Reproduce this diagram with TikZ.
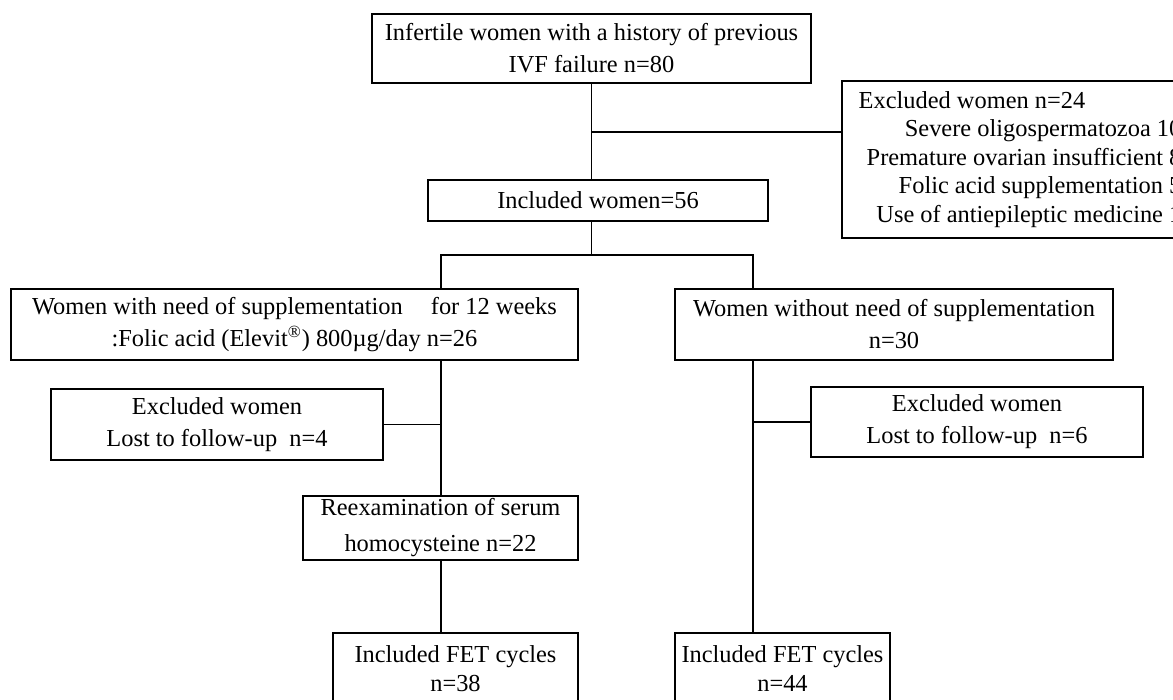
\documentclass[tikz,border=0pt]{standalone}
\usepackage{fontspec}
\setmainfont{Liberation Serif}
\usetikzlibrary{positioning,calc}
\tikzset{
  box/.style={rectangle, draw=black, line width=0.8pt, align=center, inner sep=0pt, font=\fontsize{12.2}{16}\selectfont},
  line/.style={draw, line width=0.8pt}
}
\begin{document}
\begin{tikzpicture}[x=0.5pt,y=-0.5pt]
    \useasboundingbox (0,0) rectangle (1173,700);
    \clip (0,0) rectangle (1173,700);
    \node [box, minimum width=219.5pt, minimum height=34.5pt] (infert) at (591.5,48.5) {Infertile women with a history of previous\\IVF failure n=80};
    \node [box, minimum width=182pt, minimum height=78.5pt, font=\fontsize{12.2}{14.25}\selectfont] (excl) at (1024,159.5) {\begin{tabular}{@{}r@{}}\multicolumn{1}{@{\hspace{-4pt}}l@{}}{Excluded women n=24}\\Severe oligospermatozoa 10\\Premature ovarian insufficient 8\\Folic acid supplementation 5\\Use of antiepileptic medicine 1\end{tabular}};
    \node [box, minimum width=170pt, minimum height=20.5pt] (incl) at (598,200.5) {Included women=56};
    \node [box, minimum width=283.5pt, minimum height=35.5pt] (need) at (294.5,324.5) {Women with need of supplementation\hspace{1.15em}for 12 weeks\\:Folic acid (Elevit\textsuperscript{®}) 800µg/day n=26};
    \node [box, minimum width=219pt, minimum height=35.5pt] (noneed) at (894,324.5) {Women without need of supplementation\\n=30};
    \node [box, minimum width=166pt, minimum height=35.5pt] (exA) at (217,424.5) {Excluded women\\Lost to follow-up\ \ n=4};
    \node [box, minimum width=166pt, minimum height=35pt] (exB) at (977,422) {Excluded women\\Lost to follow-up\ \ n=6};
    \node [box, minimum width=137.5pt, minimum height=32pt, font=\fontsize{12.2}{18}\selectfont] (reex) at (440.5,528) {Reexamination of serum\\homocysteine n=22};
    \node [box, minimum width=122.5pt, minimum height=36pt, font=\fontsize{12.2}{14.5}\selectfont] (fetA) at (455.5,669) {Included FET cycles\\n=38};
    \node [box, minimum width=107.5pt, minimum height=36pt, font=\fontsize{12.2}{14.5}\selectfont] (fetB) at (782.5,669) {Included FET cycles\\n=44};
    % branch points
    \coordinate (exSplit) at (592,132);
    \coordinate (armL) at (441,255);
    \coordinate (armR) at (753,255);
    \draw [line] (infert.south) -- (infert.south |- incl.north);
    \draw [line] (exSplit) -- (exSplit -| excl.west);
    \draw [line] (infert.south |- incl.south) -- (infert.south |- armL);
    \draw [line] (armL |- need.north) -- (armL) -- (armR) -- (armR |- noneed.north);
    \draw [line] (armL |- need.south) -- (armL |- reex.north);
    \draw [line] (armL |- exA.east) -- (exA.east);
    \draw [line] (armL |- reex.south) -- (armL |- fetA.north);
    \draw [line] (armR |- noneed.south) -- (armR |- fetB.north);
    \draw [line] (armR |- exB.west) -- (exB.west);
\end{tikzpicture}
\end{document}
